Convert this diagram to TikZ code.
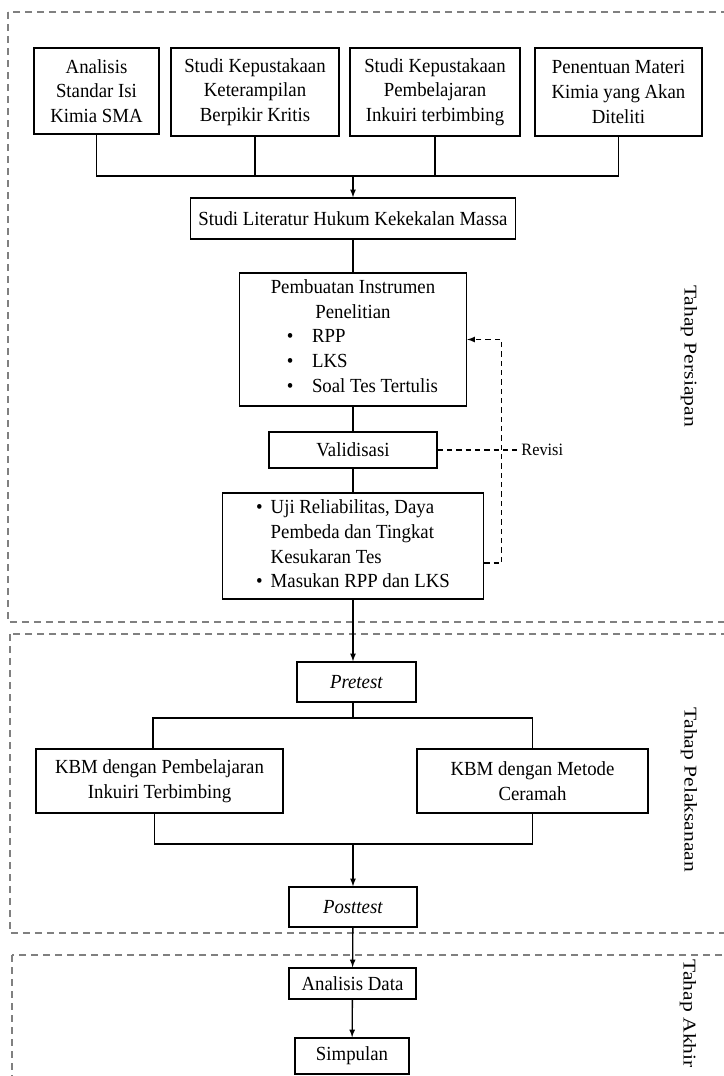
\documentclass[tikz,border=0pt]{standalone}
\usepackage{fontspec}
\setmainfont[FakeStretch=0.94]{Liberation Serif}
\newfontfamily\tahapfont[FakeStretch=1.2]{Liberation Serif}
\usepackage{tikz}
\usetikzlibrary{arrows}

\begin{document}
\begin{tikzpicture}[
				x=0.75pt, y=-0.75pt,
				node style/.style={
					draw,
					line width=1.1pt,
					align=center,
					inner sep=2pt,
					font=\fontsize{15}{18.5}\selectfont
				},
				phase style/.style={
					draw=black!50,
					line width=0.8pt,
					dash pattern=on 5pt off 4pt
				},
				tahap style/.style={
					rotate=-90,
					inner sep=1pt,
					font=\tahapfont\fontsize{13.5}{16}\selectfont
				},
				line style/.style={line width=1pt},
				revisi style/.style={line width=1pt, dash pattern=on 4pt off 3pt},
				>=latex
				]
				
				\useasboundingbox (0,0) rectangle (724,1076);
				
				\draw[phase style] (8,12) rectangle (760,622);
				\draw[phase style] (10,634) rectangle (760,933);
				\draw[phase style] (12,955) rectangle (760,1120);
				
				\node[node style, minimum width=93.75pt, minimum height=64.5pt] (analisis) at (96.5,91) 
				{Analisis\\Standar Isi\\Kimia SMA};
				
				\node[node style, minimum width=126pt, minimum height=66pt] (keterampilan) at (255,92) 
				{Studi Kepustakaan\\Keterampilan\\Berpikir Kritis};
				
				\node[node style, minimum width=127.5pt, minimum height=66pt] (inkuiri) at (435,92) 
				{Studi Kepustakaan\\Pembelajaran\\Inkuiri terbimbing};
				
				\node[node style, minimum width=125.25pt, minimum height=66pt] (materi) at (618.5,92) 
				{Penentuan Materi\\Kimia yang Akan\\Diteliti};
				
				\node[node style, minimum width=243.75pt, minimum height=30.75pt] (literatur) at (353,218.5) 
				{Studi Literatur Hukum Kekekalan Massa};
				
				\node[node style, minimum width=170.25pt, minimum height=99.75pt] (instrumen) at (353,339.5) 
				{Pembuatan Instrumen\\Penelitian\\
				\begin{tabular}[t]{@{\hspace{14pt}}l@{\hspace{14pt}}l@{}}
					\textbullet & RPP\\
					\textbullet & LKS\\
					\textbullet & Soal Tes Tertulis
				\end{tabular}};
				
				\node[node style, minimum width=126pt, minimum height=27pt] (validasi) at (353,450) 
				{Validisasi};
				
				\node[node style, minimum width=195.75pt, minimum height=79.5pt] (uji) at (353,546) 
				{\begin{tabular}{@{}l@{\hspace{6pt}}l@{}}
					\textbullet & Uji Reliabilitas, Daya\\
					& Pembeda dan Tingkat\\
					& Kesukaran Tes\\
					\textbullet & Masukan RPP dan LKS
				\end{tabular}};
				
				\node[node style, minimum width=89.25pt, minimum height=30pt] (pretest) at (356.5,682) 
				{\textit{Pretest}};
				
				\node[node style, minimum width=185.25pt, minimum height=48pt] (kbm1) at (159.5,781) 
				{KBM dengan Pembelajaran\\Inkuiri Terbimbing};
				
				\node[node style, minimum width=173.25pt, minimum height=48pt] (kbm2) at (532.5,781) 
				{KBM dengan Metode\\Ceramah};
				
				\node[node style, minimum width=96pt, minimum height=30pt] (posttest) at (353,907) 
				{\textit{Posttest}};
				
				\node[node style, minimum width=95.25pt, minimum height=23.25pt] (analisisdata) at (352.5,983.5) 
				{Analisis Data};
				
				\node[node style, minimum width=85.5pt, minimum height=27pt] (simpulan) at (352,1056) 
				{Simpulan};
				
				\node[tahap style] (persiapan) at (689,356) {Tahap Persiapan};
				\node[tahap style] (pelaksanaan) at (689,790) {Tahap\ Pelaksanaan};
				\node[tahap style, anchor=west] (akhir) at (688,958) {Tahap\ Akhir};
				
				\coordinate (join1) at (353,176);
				\coordinate (join2) at (353,718);
				\coordinate (join3) at (353,844);
				
				\draw[line style] (analisis.south) |- (join1) -| (materi.south);
				\draw[line style] (keterampilan.south) -- (keterampilan.south |- join1);
				\draw[line style] (inkuiri.south) -- (inkuiri.south |- join1);
				\draw[->, line style] (join1) -- (literatur.north);
				\draw[line style] (literatur) -- (instrumen);
				\draw[line style] (instrumen) -- (validasi);
				\draw[line style] (validasi) -- (uji);
				\draw[->, line style] (uji) -- (uji |- pretest.north);
				
				\draw[line style] (join2 |- pretest.south) -- (join2);
				\draw[line style] ([xshift=-5pt]kbm1.north) |- (join2) -| (kbm2.north);
				\draw[line style] ([xshift=-4pt]kbm1.south) |- (join3) -| (kbm2.south);
				\draw[->, line style] (join3) -- (posttest);
				\draw[->, line style] (posttest) -- (analisisdata);
				\draw[->, line style] (analisisdata) -- (simpulan);
				
				\draw[revisi style] (validasi.east) -- ++(79,0) 
				node[right, inner sep=3pt, font=\fontsize{13}{15}\selectfont] (revisi) {Revisi};
				\draw[->, revisi style] ([yshift=-12.75pt]uji.east) -- ++(17.5,0) |- (instrumen.east);
				
			\end{tikzpicture}
\end{document}
